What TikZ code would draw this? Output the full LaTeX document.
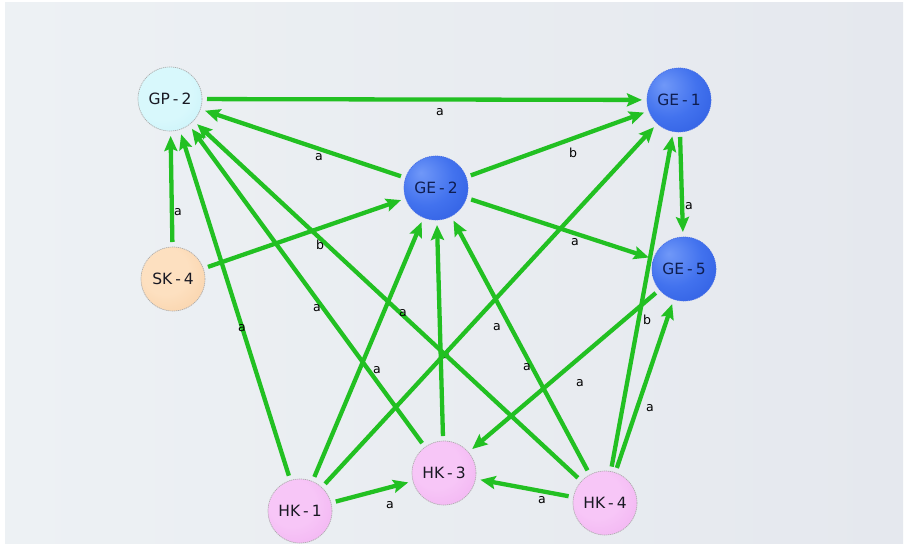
\documentclass[tikz,border=0pt]{standalone}
\usepackage{fontspec}
\usetikzlibrary{arrows.meta}
\newfontfamily\dvs{DejaVu Sans}
\definecolor{bgL}{RGB}{237,241,244}
\definecolor{bgR}{RGB}{229,232,238}
\definecolor{edgegreen}{RGB}{34,192,34}
\definecolor{geL}{RGB}{112,152,248}
\definecolor{geM}{RGB}{66,114,238}
\definecolor{geD}{RGB}{38,84,220}
\definecolor{geB}{RGB}{70,110,230}
\definecolor{gpL}{RGB}{216,248,252}
\definecolor{gpD}{RGB}{182,235,247}
\definecolor{skL}{RGB}{253,224,192}
\definecolor{skD}{RGB}{245,194,144}
\definecolor{hkL}{RGB}{247,198,247}
\definecolor{hkD}{RGB}{236,158,236}
\definecolor{txtdark}{RGB}{25,25,35}
\definecolor{txtnavy}{RGB}{15,30,80}
\pgfdeclareradialshading{geball}{\pgfpoint{-12bp}{12bp}}{color(0bp)=(geL); color(22bp)=(geM); color(50bp)=(geD); color(70bp)=(geD)}
\pgfdeclareradialshading{gpball}{\pgfpoint{-8bp}{8bp}}{color(0bp)=(gpL); color(22bp)=(gpL); color(60bp)=(gpD); color(70bp)=(gpD)}
\pgfdeclareradialshading{skball}{\pgfpoint{-8bp}{8bp}}{color(0bp)=(skL); color(18bp)=(skL); color(60bp)=(skD); color(70bp)=(skD)}
\pgfdeclareradialshading{hkball}{\pgfpoint{-8bp}{8bp}}{color(0bp)=(hkL); color(18bp)=(hkL); color(60bp)=(hkD); color(70bp)=(hkD)}
\newcommand\nhyph{\hspace{3pt}-\hspace{3pt}}
\tikzset{
  vtx/.style={circle, minimum size=64pt, inner sep=0pt, outer sep=5pt,
    font=\dvs\fontsize{15.5}{17}\selectfont, text=txtdark,
    draw=gray!65, line width=0.7pt, dash pattern=on 1.2pt off 0.8pt},
  gevtx/.style={vtx, shading=geball, draw=geB, text=txtnavy},
  gpvtx/.style={vtx, shading=gpball},
  skvtx/.style={vtx, shading=skball},
  hkvtx/.style={vtx, shading=hkball},
  edge/.style={draw=edgegreen, line width=4.3pt,
    -{Stealth[length=15pt, width=13pt, inset=2.5pt]}},
  lbl/.style={font=\dvs\fontsize{12.5}{13}\selectfont, text=black, inner sep=0pt}
}
\begin{document}
\begin{tikzpicture}[x=1pt, y=-1pt]
\useasboundingbox (0,0) rectangle (905,548);
\fill[white] (0,0) rectangle (905,548);
\shade[left color=bgL, right color=bgR] (5,3) rectangle (903,543);

% nodes
\node[gpvtx] (GP2) at (170,99)  {GP\nhyph 2};
\node[gevtx] (GE1) at (679,100) {GE\nhyph 1};
\node[gevtx] (GE2) at (436,188) {GE\nhyph 2};
\node[skvtx] (SK4) at (173,279) {SK\nhyph 4};
\node[gevtx] (GE5) at (684,269) {GE\nhyph 5};
\node[hkvtx] (HK1) at (300,511) {HK\nhyph 1};
\node[hkvtx] (HK3) at (444,473) {HK\nhyph 3};
\node[hkvtx] (HK4) at (605,503) {HK\nhyph 4};

% partly hidden label (under the edges)
\node[lbl] (l14) at (446,355) {a};

% edges
\draw[edge] (GP2) -- (GE1);
\draw[edge] (GE2) -- (GP2);
\draw[edge] (GE2) -- (GE1);
\draw[edge] (GE1) -- (GE5);
\draw[edge] (GE2) -- (GE5);
\draw[edge] (SK4) -- (GP2);
\draw[edge] (SK4) -- (GE2);
\draw[edge] (HK1) -- (GP2);
\draw[edge] (HK1) -- (GE2);
\draw[edge] (HK1) -- (GE1);
\draw[edge] (HK1) -- (HK3);
\draw[edge] (HK3) -- (GP2);
\draw[edge] (HK3) -- (GE2);
\draw[edge] (HK4) -- (GP2);
\draw[edge] (HK4) -- (GE2);
\draw[edge] (HK4) -- (GE1);
\draw[edge] (HK4) -- (GE5);
\draw[edge] (HK4) -- (HK3);
\draw[edge] (GE5) -- (HK3);

% labels
\node[lbl] (l1)  at (440,112) {a};
\node[lbl] (l2)  at (319,157) {a};
\node[lbl] (l3)  at (573,153) {b};
\node[lbl] (l4)  at (689,206) {a};
\node[lbl] (l5)  at (178,212) {a};
\node[lbl] (l6)  at (575,242) {a};
\node[lbl] (l7)  at (320,245) {b};
\node[lbl] (l8)  at (242,328) {a};
\node[lbl] (l9)  at (317,308) {a};
\node[lbl] (l10) at (403,313) {a};
\node[lbl] (l11) at (377,370) {a};
\node[lbl] (l12) at (497,327) {a};
\node[lbl] (l13) at (527,367) {a};
\node[lbl] (l15) at (647,320) {b};
\node[lbl] (l16) at (580,383) {a};
\node[lbl] (l17) at (650,408) {a};
\node[lbl] (l18) at (390,505) {a};
\node[lbl] (l19) at (542,500) {a};
\end{tikzpicture}
\end{document}
